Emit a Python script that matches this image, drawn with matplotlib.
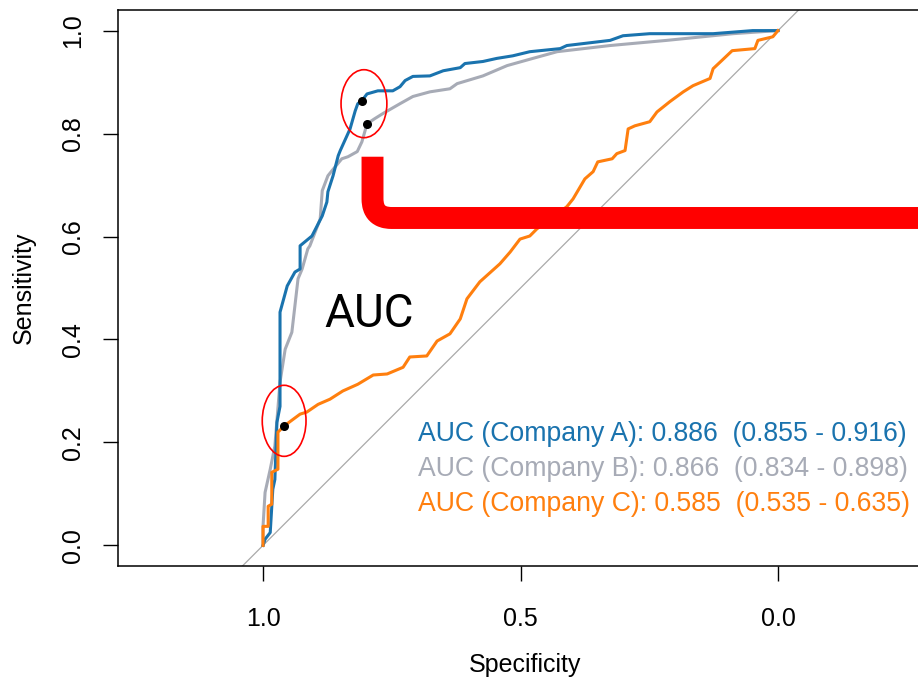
"""
ROC curves for three companies, pROC-style layout (specificity reversed).
"""

import numpy as np
import matplotlib
matplotlib.use("Agg")
import matplotlib.pyplot as plt
from matplotlib.path import Path
from matplotlib.patches import PathPatch, Ellipse

# ---- Data ----

spec_a = [1.000, 0.996, 0.986, 0.981, 0.977, 0.973, 0.967, 0.967, 0.953, 0.938,
          0.928, 0.928, 0.905, 0.885, 0.876, 0.874, 0.864, 0.854, 0.850, 0.831,
          0.821, 0.816, 0.808, 0.798, 0.777, 0.748, 0.734, 0.724, 0.709, 0.676,
          0.650, 0.617, 0.608, 0.573, 0.546, 0.515, 0.482, 0.423, 0.410, 0.326,
          0.301, 0.249, 0.126, 0.049, 0.000]
sens_a = [0.000, 0.012, 0.025, 0.109, 0.128, 0.239, 0.270, 0.453, 0.504, 0.531,
          0.537, 0.582, 0.601, 0.640, 0.667, 0.687, 0.718, 0.757, 0.767, 0.809,
          0.844, 0.858, 0.864, 0.877, 0.883, 0.883, 0.891, 0.903, 0.911, 0.912,
          0.922, 0.928, 0.936, 0.940, 0.946, 0.951, 0.959, 0.965, 0.971, 0.981,
          0.990, 0.994, 0.994, 1.000, 1.000]

spec_b = [1.000, 1.000, 0.996, 0.986, 0.977, 0.967, 0.957, 0.944, 0.932, 0.924,
          0.913, 0.909, 0.889, 0.885, 0.874, 0.866, 0.847, 0.835, 0.817, 0.808,
          0.802, 0.798, 0.783, 0.767, 0.734, 0.709, 0.676, 0.637, 0.623, 0.573,
          0.526, 0.476, 0.429, 0.326, 0.216, 0.087, 0.000]
sens_b = [0.000, 0.037, 0.103, 0.148, 0.193, 0.317, 0.381, 0.414, 0.518, 0.537,
          0.576, 0.582, 0.634, 0.689, 0.718, 0.728, 0.751, 0.755, 0.765, 0.784,
          0.805, 0.819, 0.829, 0.839, 0.858, 0.872, 0.881, 0.887, 0.897, 0.912,
          0.932, 0.946, 0.959, 0.971, 0.981, 0.994, 1.000]

spec_c = [1.000, 1.000, 0.990, 0.990, 0.983, 0.983, 0.971, 0.971, 0.959, 0.928,
          0.915, 0.893, 0.870, 0.845, 0.816, 0.786, 0.759, 0.728, 0.715, 0.682,
          0.662, 0.637, 0.617, 0.604, 0.579, 0.540, 0.520, 0.501, 0.482, 0.468,
          0.410, 0.398, 0.375, 0.359, 0.350, 0.322, 0.313, 0.297, 0.291, 0.278,
          0.249, 0.235, 0.210, 0.184, 0.165, 0.132, 0.126, 0.109, 0.089, 0.045,
          0.039, 0.010, 0.000]
sens_c = [0.000, 0.037, 0.037, 0.076, 0.080, 0.142, 0.148, 0.220, 0.232, 0.255,
          0.259, 0.274, 0.284, 0.300, 0.313, 0.331, 0.333, 0.346, 0.366, 0.368,
          0.397, 0.411, 0.440, 0.479, 0.512, 0.547, 0.570, 0.595, 0.601, 0.615,
          0.658, 0.673, 0.712, 0.726, 0.745, 0.751, 0.761, 0.767, 0.809, 0.815,
          0.823, 0.842, 0.862, 0.881, 0.893, 0.907, 0.926, 0.942, 0.961, 0.965,
          0.981, 0.988, 1.000]

# best thresholds marked on the curves
best_spec = [0.808, 0.798, 0.959]
best_sens = [0.864, 0.819, 0.232]

legend_lines = [
    "AUC (Company A): 0.886  (0.855 - 0.916)",
    "AUC (Company B): 0.866  (0.834 - 0.898)",
    "AUC (Company C): 0.585  (0.535 - 0.635)",
]

COL_A = "#1a73ae"
COL_B = "#a7abb6"
COL_C = "#ff7f0e"

plt.rcParams["font.family"] = ["Liberation Sans", "DejaVu Sans"]

fig = plt.figure(figsize=(9.18, 6.78), dpi=100)
ax = fig.add_axes([118 / 918, 112 / 678, 814.5 / 918, 556 / 678])
ax.set_xlim(1.2816, -0.30)
ax.set_ylim(-0.04, 1.04)

# chance line
ax.plot([1.2, -0.2], [-0.2, 1.2], color="#a9a9a9", lw=0.9, zorder=1)

ax.plot(spec_b, sens_b, color=COL_B, lw=2.2, zorder=3)
ax.plot(spec_a, sens_a, color=COL_A, lw=2.2, zorder=4)
ax.plot(spec_c, sens_c, color=COL_C, lw=2.2, zorder=5)

ax.scatter(best_spec, best_sens, s=30, color="black", zorder=6)

# red circles round the thresholds
for cx, cy, w, h in [(0.804, 0.858, 0.089, 0.132), (0.959, 0.242, 0.085, 0.138)]:
    ax.add_patch(Ellipse((cx, cy), w, h, fill=False, edgecolor="red", lw=1.2, zorder=7))

# thick red bracket
xv, ytop, yh, r = 0.7874, 0.755, 0.636, 0.037
verts = [(xv, ytop), (xv, yh + r), (xv, yh), (xv - r, yh), (-0.5, yh)]
codes = [Path.MOVETO, Path.LINETO, Path.CURVE3, Path.CURVE3, Path.LINETO]
ax.add_patch(PathPatch(Path(verts, codes), fill=False, edgecolor="red",
                       lw=15.8, capstyle="butt", joinstyle="round", zorder=8))

ax.text(0.793, 0.424, "AUC", fontsize=33, family=["Roboto", "DejaVu Sans"],
        ha="center", va="baseline", color="black", zorder=9)

for i, (txt, col) in enumerate(zip(legend_lines, [COL_A, COL_B, COL_C])):
    ax.text(0.699, 0.2023 - i * 0.0681, txt, color=col, fontsize=19.2,
            ha="left", va="baseline", zorder=9)

ax.set_xticks([1.0, 0.5, 0.0])
ax.set_xticklabels(["1.0", "0.5", "0.0"])
ax.set_yticks([0.0, 0.2, 0.4, 0.6, 0.8, 1.0])
ax.set_yticklabels(["0.0", "0.2", "0.4", "0.6", "0.8", "1.0"])
plt.setp(ax.get_yticklabels(), rotation=90, va="center")
ax.tick_params(axis="both", length=10.8, width=1.0, labelsize=18, color="black")
ax.tick_params(axis="x", pad=18.7)
ax.tick_params(axis="y", pad=13)

ax.spines["right"].set_visible(False)
for s in ["left", "top", "bottom"]:
    ax.spines[s].set_linewidth(1.1)

ax.set_xlabel("Specificity", fontsize=18, labelpad=16)
ax.set_ylabel("Sensitivity", fontsize=18, labelpad=18)

fig.savefig("out.png", dpi=100)
